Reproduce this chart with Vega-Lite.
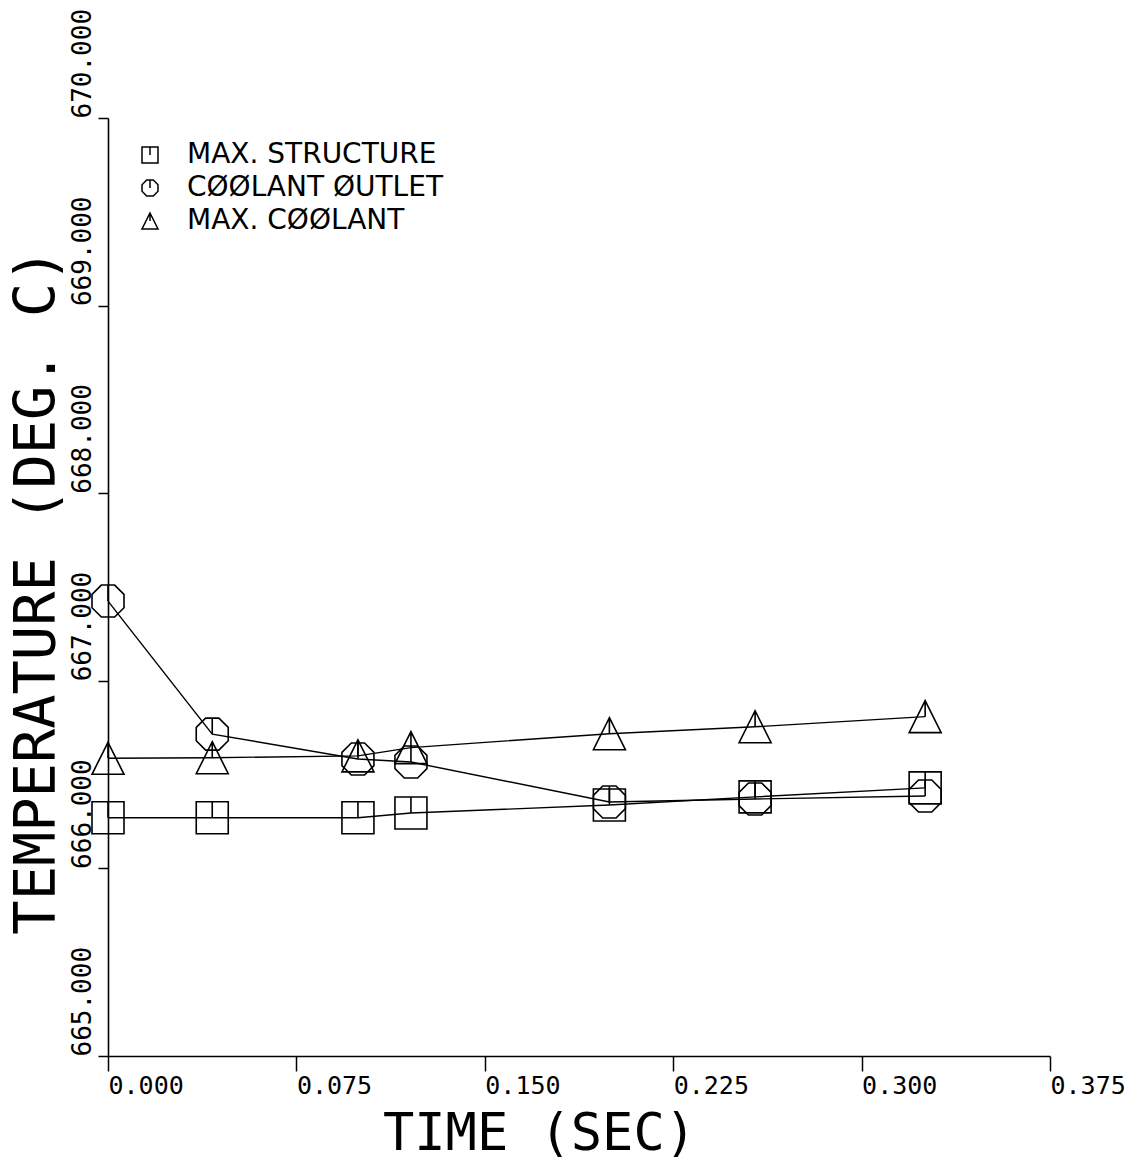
{
  "$schema": "https://vega.github.io/schema/vega-lite/v6.json",
  "width": 942,
  "height": 938,
  "autosize": {"type": "none"},
  "padding": {"left": 108, "top": 118, "right": 90, "bottom": 104},
  "background": "white",
  "config": {
    "view": {"stroke": null},
    "axis": {
      "grid": false,
      "domainColor": "black",
      "domainWidth": 1.6,
      "tickColor": "black",
      "tickWidth": 1.5,
      "labelColor": "black",
      "titleColor": "black",
      "labelFont": "DejaVu Sans Mono",
      "titleFont": "DejaVu Sans Mono",
      "labelFontWeight": "normal",
      "titleFontWeight": "normal",
      "labelFlush": false,
      "labelOverlap": false,
      "labelBound": false,
      "titleLimit": 0
    }
  },
  "data": {
    "values": [
      {"t": 0.0, "temp": 666.27, "series": "MAX. STRUCTURE"},
      {"t": 0.0415, "temp": 666.27, "series": "MAX. STRUCTURE"},
      {"t": 0.0995, "temp": 666.27, "series": "MAX. STRUCTURE"},
      {"t": 0.1206, "temp": 666.295, "series": "MAX. STRUCTURE"},
      {"t": 0.1996, "temp": 666.338, "series": "MAX. STRUCTURE"},
      {"t": 0.2576, "temp": 666.381, "series": "MAX. STRUCTURE"},
      {"t": 0.3253, "temp": 666.429, "series": "MAX. STRUCTURE"},
      {"t": 0.0, "temp": 667.425, "series": "CØØLANT ØUTLET"},
      {"t": 0.0415, "temp": 666.716, "series": "CØØLANT ØUTLET"},
      {"t": 0.0995, "temp": 666.583, "series": "CØØLANT ØUTLET"},
      {"t": 0.1206, "temp": 666.567, "series": "CØØLANT ØUTLET"},
      {"t": 0.1996, "temp": 666.354, "series": "CØØLANT ØUTLET"},
      {"t": 0.2576, "temp": 666.37, "series": "CØØLANT ØUTLET"},
      {"t": 0.3253, "temp": 666.386, "series": "CØØLANT ØUTLET"},
      {"t": 0.0, "temp": 666.587, "series": "MAX. CØØLANT"},
      {"t": 0.0415, "temp": 666.59, "series": "MAX. CØØLANT"},
      {"t": 0.0995, "temp": 666.6, "series": "MAX. CØØLANT"},
      {"t": 0.1206, "temp": 666.644, "series": "MAX. CØØLANT"},
      {"t": 0.1996, "temp": 666.718, "series": "MAX. CØØLANT"},
      {"t": 0.2576, "temp": 666.755, "series": "MAX. CØØLANT"},
      {"t": 0.3253, "temp": 666.809, "series": "MAX. CØØLANT"}
    ]
  },
  "encoding": {
    "x": {
      "field": "t",
      "type": "quantitative",
      "scale": {"domain": [0, 0.375], "nice": false, "zero": false},
      "axis": {
        "title": "TIME (SEC)",
        "values": [0, 0.075, 0.15, 0.225, 0.3, 0.375],
        "format": ".3f",
        "tickSize": 15,
        "labelFontSize": 25,
        "labelAlign": "left",
        "labelBaseline": "top",
        "labelPadding": 2,
        "titleFontSize": 52,
        "titleAlign": "center",
        "titleBaseline": "alphabetic",
        "titleX": 431,
        "titleY": 93
      }
    },
    "y": {
      "field": "temp",
      "type": "quantitative",
      "scale": {"domain": [665, 670], "nice": false, "zero": false},
      "axis": {
        "title": "TEMPERATURE (DEG. C)",
        "values": [665, 666, 667, 668, 669, 670],
        "format": ".3f",
        "tickSize": 10,
        "labelFontSize": 26,
        "labelAngle": 270,
        "labelAlign": "left",
        "labelBaseline": "alphabetic",
        "labelPadding": 8,
        "titleFontSize": 57,
        "titleAngle": 270,
        "titleAlign": "center",
        "titleBaseline": "alphabetic",
        "titleX": -54,
        "titleY": 473
      }
    }
  },
  "layer": [
    {
      "mark": {"type": "line", "color": "black", "strokeWidth": 1.4},
      "encoding": {
        "detail": {"field": "series"},
        "order": {"field": "t"}
      }
    },
    {
      "mark": {"type": "point", "filled": false, "color": "black", "strokeWidth": 1.6, "size": 1024, "opacity": 1},
      "encoding": {
        "shape": {
          "field": "series",
          "type": "nominal",
          "scale": {
            "domain": ["MAX. STRUCTURE", "CØØLANT ØUTLET", "MAX. CØØLANT"],
            "range": [
              "M-1,-1L1,-1L1,1L-1,1Z M0,-1L0,0",
              "M-0.414,-1L0.414,-1L1,-0.414L1,0.414L0.414,1L-0.414,1L-1,0.414L-1,-0.414Z M0,-1L0,0",
              "M0,-1L1,1L-1,1Z M0,-1L0,0"
            ]
          },
          "legend": {
            "orient": "none",
            "legendX": 28,
            "legendY": 23,
            "title": null,
            "padding": 0,
            "labelFont": "DejaVu Sans",
            "labelFontSize": 28,
            "labelColor": "black",
            "labelOffset": 23,
            "labelLimit": 0,
            "rowPadding": 5,
            "symbolSize": 256,
            "symbolStrokeWidth": 1.5,
            "symbolStrokeColor": "black",
            "symbolFillColor": "transparent",
            "symbolOpacity": 1
          }
        }
      }
    }
  ]
}
